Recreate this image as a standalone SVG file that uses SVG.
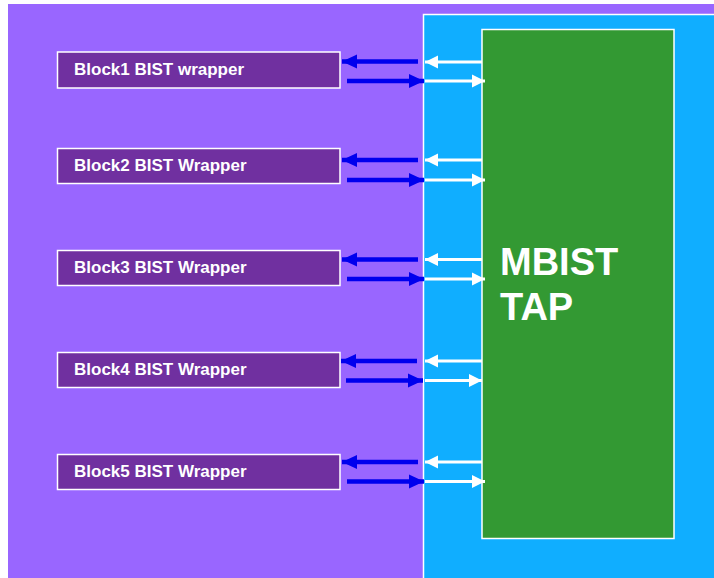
<svg xmlns="http://www.w3.org/2000/svg" width="714" height="578" viewBox="0 0 714 578">
<defs>
<style>
.blk rect{fill:#7030A0;stroke:#FFFFFF;stroke-width:1.5}
.blk text{fill:#FFFFFF;font-family:"Liberation Sans",Arial,sans-serif;font-weight:bold;font-size:17px}
.ba{stroke:#0000EE;stroke-width:4.5;fill:none}
.wa{stroke:#FFFFFF;stroke-width:3.2;fill:none}
</style>
<marker id="bh" markerUnits="userSpaceOnUse" markerWidth="16" markerHeight="16" viewBox="0 0 16 16" refX="15" refY="8" orient="auto">
<path d="M0,1 L15,8 L0,15 Z" fill="#0000EE"/>
</marker>
<marker id="wh" markerUnits="userSpaceOnUse" markerWidth="14" markerHeight="14" viewBox="0 0 14 14" refX="13" refY="7" orient="auto">
<path d="M0,0.5 L13,7 L0,13.5 Z" fill="#FFFFFF"/>
</marker>
</defs>
<rect x="0" y="0" width="714" height="578" fill="#FFFFFF"/>
<rect x="8" y="4" width="706" height="574" fill="#9966FF"/>
<g id="outer">
<rect x="423.5" y="14.5" width="295" height="570" fill="#10AEFF" stroke="#FFFFFF" stroke-width="1.5"/>
</g>
<g id="mbist">
<rect x="482" y="29.5" width="192" height="509" fill="#339933" stroke="#FFFFFF" stroke-width="1.5"/>
<text x="500" y="275" fill="#FFFFFF" font-family="Liberation Sans,Arial,sans-serif" font-weight="bold" font-size="38">MBIST</text>
<text x="500" y="320" fill="#FFFFFF" font-family="Liberation Sans,Arial,sans-serif" font-weight="bold" font-size="38">TAP</text>
</g>
<g id="block1" class="blk"><rect x="57.5" y="52" width="282.5" height="36"/><text x="74" y="74.5">Block1 BIST wrapper</text></g>
<g id="block2" class="blk"><rect x="57.5" y="148.5" width="282.5" height="35"/><text x="74" y="171">Block2 BIST Wrapper</text></g>
<g id="block3" class="blk"><rect x="57.5" y="250.5" width="282.5" height="35"/><text x="74" y="273">Block3 BIST Wrapper</text></g>
<g id="block4" class="blk"><rect x="57.5" y="352.5" width="282.5" height="35"/><text x="74" y="375">Block4 BIST Wrapper</text></g>
<g id="block5" class="blk"><rect x="57.5" y="454.5" width="282.5" height="35"/><text x="74" y="477">Block5 BIST Wrapper</text></g>
<g id="connectors">
<line class="ba" x1="418" y1="61.5" x2="342" y2="61.5" marker-end="url(#bh)"/>
<line class="ba" x1="347" y1="81" x2="424" y2="81" marker-end="url(#bh)"/>
<line class="wa" x1="482" y1="62" x2="425" y2="62" marker-end="url(#wh)"/>
<line class="wa" x1="425" y1="81" x2="485" y2="81" marker-end="url(#wh)"/>

<line class="ba" x1="418" y1="160" x2="342" y2="160" marker-end="url(#bh)"/>
<line class="ba" x1="347" y1="180" x2="424" y2="180" marker-end="url(#bh)"/>
<line class="wa" x1="482" y1="160" x2="425" y2="160" marker-end="url(#wh)"/>
<line class="wa" x1="425" y1="180" x2="485" y2="180" marker-end="url(#wh)"/>

<line class="ba" x1="418" y1="259.5" x2="342" y2="259.5" marker-end="url(#bh)"/>
<line class="ba" x1="347" y1="279" x2="424" y2="279" marker-end="url(#bh)"/>
<line class="wa" x1="482" y1="259.5" x2="425" y2="259.5" marker-end="url(#wh)"/>
<line class="wa" x1="425" y1="279" x2="485" y2="279" marker-end="url(#wh)"/>

<line class="ba" x1="417" y1="361" x2="341" y2="361" marker-end="url(#bh)"/>
<line class="ba" x1="346" y1="380.5" x2="423" y2="380.5" marker-end="url(#bh)"/>
<line class="wa" x1="482" y1="361" x2="425" y2="361" marker-end="url(#wh)"/>
<line class="wa" x1="425" y1="380.5" x2="482" y2="380.5" marker-end="url(#wh)"/>

<line class="ba" x1="418" y1="462" x2="342" y2="462" marker-end="url(#bh)"/>
<line class="ba" x1="347" y1="481.5" x2="424" y2="481.5" marker-end="url(#bh)"/>
<line class="wa" x1="482" y1="462" x2="425" y2="462" marker-end="url(#wh)"/>
<line class="wa" x1="425" y1="481.5" x2="485" y2="481.5" marker-end="url(#wh)"/>
</g>
</svg>
